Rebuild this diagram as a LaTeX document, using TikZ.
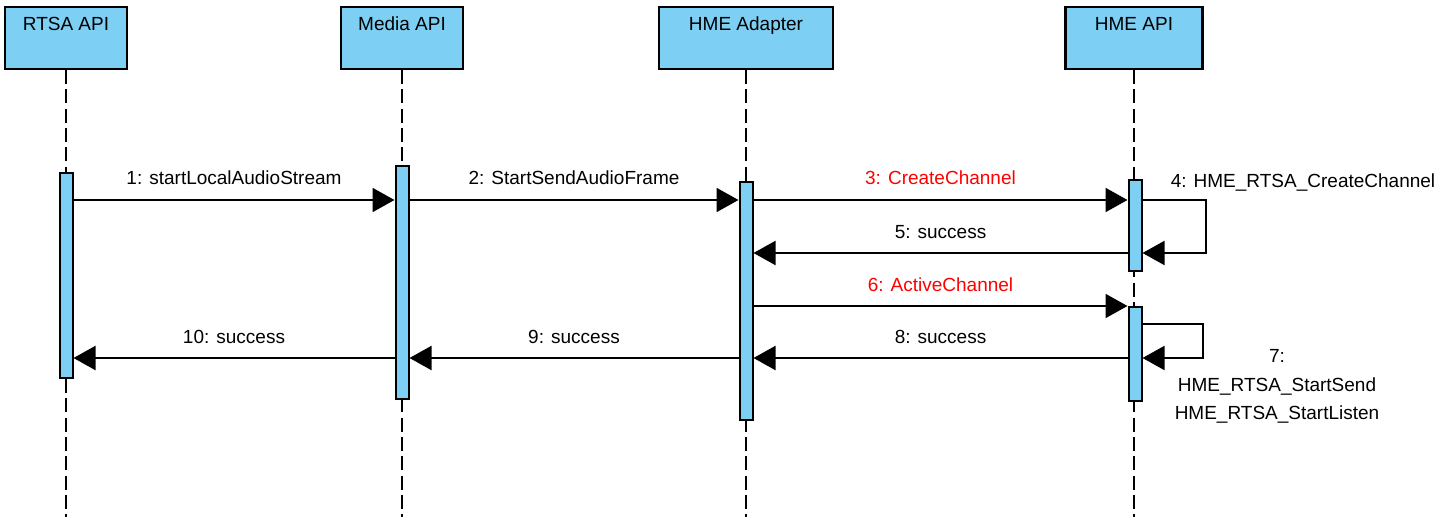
\documentclass[tikz,border=0pt]{standalone}
\usepackage{fontspec}
\setmainfont{Liberation Sans}
\usepackage{tikz}
\usetikzlibrary{arrows.meta}
\definecolor{boxfill}{HTML}{7DCFF4}
\definecolor{callred}{HTML}{FF0000}
\tikzset{
  head/.style={draw=black, fill=boxfill, line width=2.2pt, anchor=north,
    font=\fontsize{19}{22}\selectfont, text height=13.5pt, inner ysep=10pt},
  bar/.style={draw=black, fill=boxfill, line width=2pt, anchor=north,
    minimum width=13pt, inner sep=0pt},
  life/.style={draw=black, line width=2pt, dash pattern=on 14pt off 5.3pt},
  msg/.style={draw=black, line width=2pt, -{Triangle[length=22pt,width=24pt]}},
  lab/.style={font=\fontsize{19}{28.5}\selectfont, text depth=4pt, inner sep=0pt},
  red/.style={text=callred}
}

\begin{document}
\begin{tikzpicture}[x=1pt, y=-1pt, line join=miter]
  \useasboundingbox (0,0) rectangle (1446,524);
  % lifeline heads
  \node[head, minimum width=122pt, text depth=28.5pt] (rtsa) at (66,6) {RTSA API};
  \node[head, minimum width=122pt, text depth=28.5pt] (media) at (402,6) {Media API};
  \node[head, minimum width=174pt, text depth=28.5pt] (adapter) at (746,6) {HME Adapter};
  \node[head, minimum width=137pt, text depth=28.5pt] (hme) at (1134,6) {HME API};
  \coordinate (end) at (0,517);
  \draw[life] (rtsa.south) -- (rtsa.south |- end);
  \draw[life] (media.south) -- (media.south |- end);
  \draw[life] (adapter.south) -- (adapter.south |- end);
  \draw[life] (hme.south) -- (hme.south |- end);
  % activation bars
  \node[bar, minimum height=205pt] (rtsaBar) at (66,172) {};
  \node[bar, minimum height=233pt] (mediaBar) at (402,165) {};
  \node[bar, minimum height=238pt] (adapterBar) at (746,181) {};
  \node[bar, minimum height=91pt] (hmeBarA) at (1135,179) {};
  \node[bar, minimum height=94pt] (hmeBarB) at (1135,306) {};
  % message rows
  \coordinate (y1) at (0,200);
  \coordinate (y5) at (0,253);
  \coordinate (y6) at (0,306);
  \coordinate (y7) at (0,324);
  \coordinate (y8) at (0,358);
  \coordinate (loopA) at (1206,0);
  \coordinate (loopB) at (1203,0);
  \draw[msg] (rtsaBar.east |- y1) -- node[lab, above=10pt] {1: startLocalAudioStream} (mediaBar.west |- y1);
  \draw[msg] (mediaBar.east |- y1) -- node[lab, above=10pt] {2: StartSendAudioFrame} (adapterBar.west |- y1);
  \draw[msg] (adapterBar.east |- y1) -- node[lab, red, above=10pt] {3: CreateChannel} (hmeBarA.west |- y1);
  \draw[msg] (hmeBarA.east |- y1) -- (loopA |- y1) -- (loopA |- y5) -- (hmeBarA.east |- y5);
  \node[lab, anchor=base] (m4) at (1303,187) {4: HME\_RTSA\_CreateChannel};
  \draw[msg] (hmeBarA.west |- y5) -- node[lab, above=10pt] {5: success} (adapterBar.east |- y5);
  \draw[msg] (adapterBar.east |- y6) -- node[lab, red, above=10pt] {6: ActiveChannel} (hmeBarB.west |- y6);
  \draw[msg] (hmeBarB.east |- y7) -- (loopB |- y7) -- (loopB |- y8) -- (hmeBarB.east |- y8);
  \node[lab, align=center, anchor=north, text depth=0pt] (m7) at (1277,349.5)
    {7:\\HME\_RTSA\_StartSend\\HME\_RTSA\_StartListen};
  \draw[msg] (hmeBarB.west |- y8) -- node[lab, above=10pt] {8: success} (adapterBar.east |- y8);
  \draw[msg] (adapterBar.west |- y8) -- node[lab, above=10pt] {9: success} (mediaBar.east |- y8);
  \draw[msg] (mediaBar.west |- y8) -- node[lab, above=10pt] {10: success} (rtsaBar.east |- y8);
\end{tikzpicture}
\end{document}
